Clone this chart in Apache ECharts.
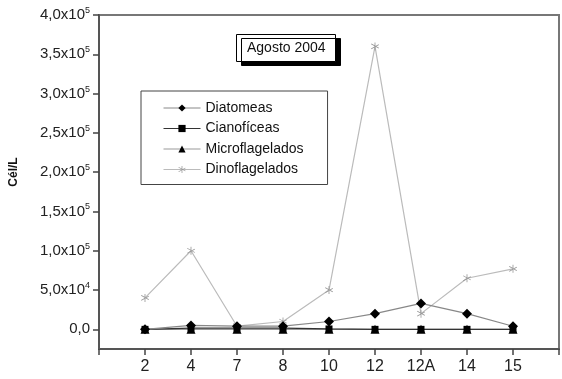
<!DOCTYPE html>
<html>
<head>
<meta charset="utf-8">
<script src="https://cdn.jsdelivr.net/npm/echarts@6/dist/echarts.min.js"></script>
<style>
html, body { margin: 0; padding: 0; background: #fff; }
#main { width: 562px; height: 379px; }
</style>
</head>
<body>
<div id="main"></div>
<script>
// estaciones de muestreo
var estaciones = ['2', '4', '7', '8', '10', '12', '12A', '14', '15'];
var diatomeas = [0, 5000, 4000, 4000, 10000, 20000, 33000, 20000, 4000];
var cianoficeas = [0, 1500, 1500, 1500, 500, 0, 0, 0, 0];
var microflagelados = [0, 0, 0, 0, 0, 0, 0, 0, 0];
var dinoflagelados = [40000, 100000, 4000, 10000, 50000, 360000, 20000, 65000, 77000];
var yTicks = [0, 50000, 100000, 150000, 200000, 250000, 300000, 350000, 400000];

// posicion x = indice + 2 (eje de 1 a 11)
function pares(arr) {
	return arr.map(function (v, i) { return [i + 2, v]; });
}

var asterisco = 'path://M4.5,0h1v10h-1z M0.2,2.3l0.5,-0.87l9.1,5.3l-0.5,0.87z M0.2,7.7l9.1,-5.3l0.5,0.87l-9.1,5.3z';

function etiquetaY(v) {
	if (v === 0) return '0,0';
	var e = Math.floor(Math.log10(v) + 1e-9);
	var m = (v / Math.pow(10, e)).toFixed(1).replace('.', ',');
	return m + 'x10{s|' + e + '}';
}

var chart = echarts.init(document.getElementById('main'));
var option = {
	animation: false,
	title: {
		text: 'Agosto 2004',
		left: 236,
		top: 34,
		padding: [7, 10, 7, 11],
		backgroundColor: '#fff',
		borderColor: '#000',
		borderWidth: 1,
		shadowColor: '#000',
		shadowBlur: 0,
		shadowOffsetX: 5,
		shadowOffsetY: 4,
		textStyle: {
			fontFamily: 'Liberation Sans',
			fontSize: 14,
			fontWeight: 'normal',
			color: '#111'
		}
	},
	legend: {
		orient: 'vertical',
		left: 141,
		top: 91,
		padding: [10, 24, 8, 22],
		itemWidth: 37,
		itemHeight: 9,
		itemGap: 6.5,
		borderColor: '#444',
		borderWidth: 1,
		backgroundColor: '#fff',
		lineStyle: { width: 1 },
		textStyle: {
			fontFamily: 'Liberation Sans',
			fontSize: 14,
			color: '#111'
		},
		data: ['Diatomeas', 'Cianofíceas', 'Microflagelados', 'Dinoflagelados']
	},
	graphic: [{
		type: 'text',
		x: 14,
		y: 172,
		rotation: Math.PI / 2,
		style: {
			text: 'Cél/L',
			font: 'bold 12px "Liberation Sans"',
			fill: '#111',
			align: 'center',
			verticalAlign: 'middle'
		}
	}],
	grid: {
		left: 99,
		right: 1,
		top: 15,
		bottom: 30,
		show: true,
		borderColor: '#777',
		borderWidth: 2
	},
	xAxis: {
		type: 'value',
		min: 1,
		max: 11,
		interval: 1,
		splitLine: { show: false },
		axisLine: { onZero: false, lineStyle: { color: '#555', width: 2 } },
		axisTick: { length: 6, lineStyle: { color: '#444', width: 1.5 } },
		axisLabel: {
			margin: 10,
			fontFamily: 'Liberation Sans',
			fontSize: 16,
			color: '#222',
			formatter: function (v) {
				var n = estaciones[v - 2];
				return n === undefined ? '' : n;
			}
		}
	},
	yAxis: {
		type: 'value',
		min: -25000,
		max: 400000,
		splitLine: { show: false },
		axisLine: { show: true, lineStyle: { color: '#555', width: 2 } },
		axisTick: { show: true, length: 6, customValues: yTicks, lineStyle: { color: '#444', width: 1.5 } },
		axisLabel: {
			margin: 9,
			customValues: yTicks,
			fontFamily: 'Liberation Sans',
			fontSize: 15,
			color: '#222',
			formatter: etiquetaY,
			rich: {
				s: { fontSize: 9, verticalAlign: 'top', padding: [0, 0, 9, 0], fontFamily: 'Liberation Sans', color: '#222' }
			}
		}
	},
	series: [{
		name: 'Dinoflagelados',
		type: 'line',
		data: pares(dinoflagelados),
		symbol: asterisco,
		symbolSize: 8,
		lineStyle: { color: '#bbb', width: 1.2 },
		itemStyle: { color: '#999' },
		z: 1
	}, {
		name: 'Microflagelados',
		type: 'line',
		data: pares(microflagelados),
		symbol: 'triangle',
		symbolSize: 9,
		lineStyle: { color: '#999', width: 1.2 },
		itemStyle: { color: '#000' },
		z: 2
	}, {
		name: 'Cianofíceas',
		type: 'line',
		data: pares(cianoficeas),
		symbol: 'rect',
		symbolSize: 7,
		lineStyle: { color: '#333', width: 1.2 },
		itemStyle: { color: '#000' },
		z: 3
	}, {
		name: 'Diatomeas',
		type: 'line',
		data: pares(diatomeas),
		symbol: 'diamond',
		symbolSize: 10,
		lineStyle: { color: '#888', width: 1.2 },
		itemStyle: { color: '#000' },
		z: 4
	}]
};
chart.setOption(option);
</script>
</body>
</html>
